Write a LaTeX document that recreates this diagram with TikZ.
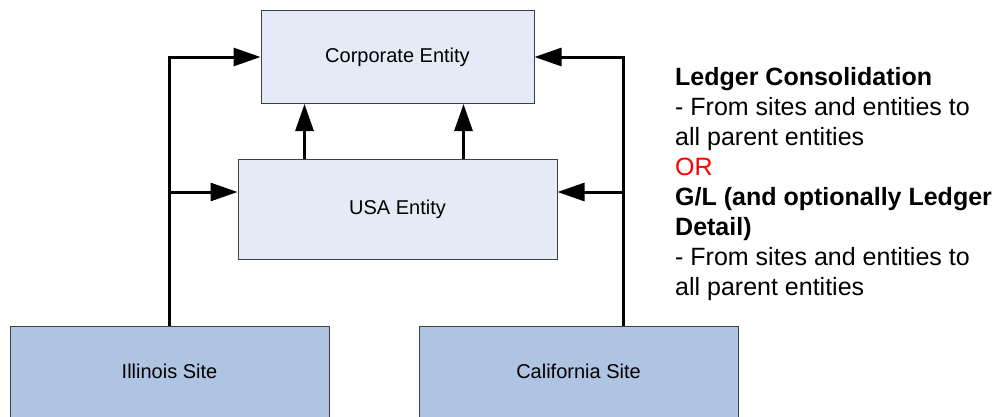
\documentclass[tikz,border=0pt]{standalone}
\usepackage{fontspec}
\setmainfont{Liberation Sans}
\usetikzlibrary{arrows.meta,calc}
\definecolor{lightbox}{HTML}{E4EBF6}
\definecolor{sitebox}{HTML}{AFC4E3}
\definecolor{boxline}{HTML}{404040}
\definecolor{orred}{HTML}{FF0000}
\tikzset{
  entity/.style={draw=boxline, line width=1pt, fill=lightbox, inner sep=0pt,
    font=\fontsize{20}{24}\selectfont},
  site/.style={draw=boxline, line width=1pt, fill=sitebox, inner sep=0pt,
    minimum width=319pt, minimum height=100pt, anchor=north,
    text height=14pt, text depth=10pt, font=\fontsize{20}{24}\selectfont},
  conn/.style={line width=3pt, -{Triangle[length=27pt,width=18pt]}},
  plain/.style={line width=3pt},
  note/.style={anchor=north west, inner sep=0pt, align=left,
    font=\fontsize{25}{30}\selectfont}
}
\begin{document}
\begin{tikzpicture}[x=1pt,y=-1pt]
\clip (0,0) rectangle (995,416);
\fill[white] (0,0) rectangle (995,416);
% boxes
\node[entity, minimum width=273pt, minimum height=93pt] (corp) at (397.5,57) {Corporate Entity};
\node[entity, minimum width=319pt, minimum height=100pt] (usa) at (397.5,209) {USA Entity};
\node[site] (ill) at (169.5,326) {Illinois Site};
\node[site] (cal) at (578.5,326) {California Site};
% junction coordinates
\coordinate (cn) at (623,326);
\coordinate (lj) at (169,192);
\coordinate (rj) at (623,192);
\coordinate (u1) at ($(usa.north west)+(67,0)$);
\coordinate (u2) at ($(usa.north west)+(226,0)$);
% connectors
\draw[conn] (ill.north) |- (corp.west);
\draw[conn] (lj) -- (lj -| usa.west);
\draw[conn] (cn) |- (corp.east);
\draw[conn] (rj) -- (rj -| usa.east);
\draw[conn] (u1) -- (u1 |- corp.south);
\draw[conn] (u2) -- (u2 |- corp.south);
% note
\node[note] (txt) at (675,67.5) {\textbf{Ledger Consolidation}\\
- From sites and entities to\\
all parent entities\\
\textcolor{orred}{OR}\\
\textbf{G/L (and optionally Ledger}\\
\textbf{Detail)}\\
- From sites and entities to\\
all parent entities};
\end{tikzpicture}
\end{document}
